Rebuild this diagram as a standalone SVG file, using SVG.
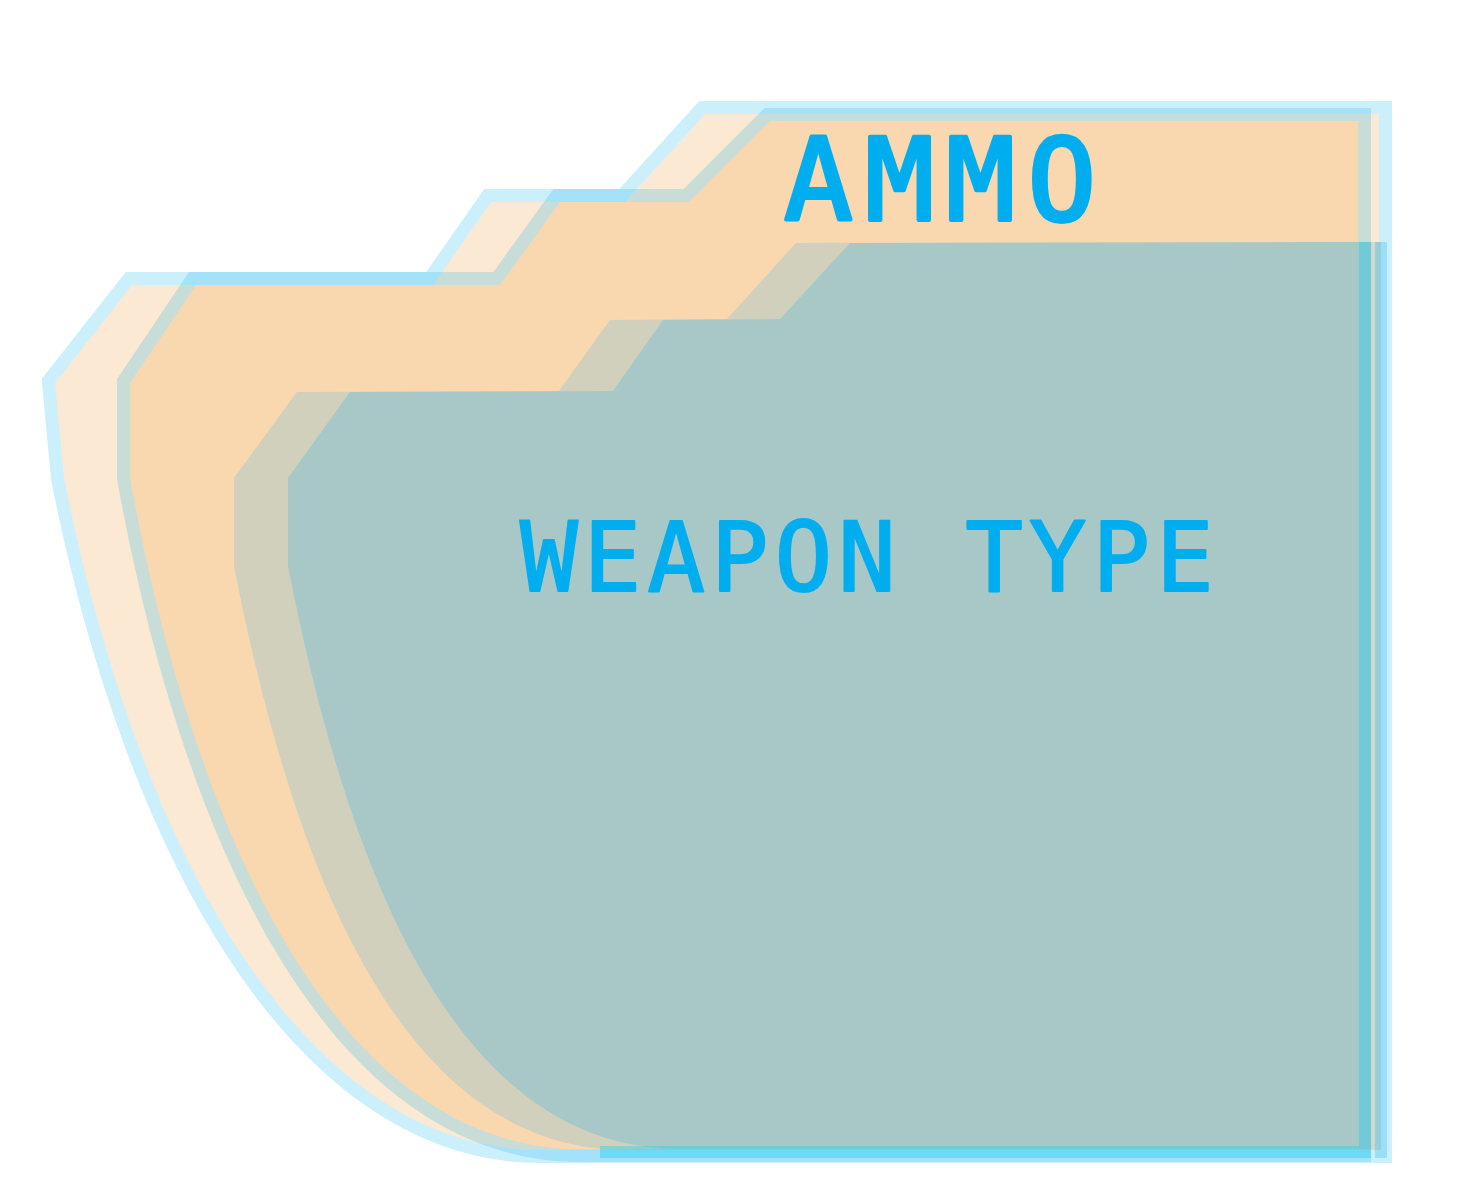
<svg xmlns="http://www.w3.org/2000/svg" width="1462" height="1195" viewBox="0 0 1462 1195">
  <style>
    .edge { stroke: #00AEEF; stroke-opacity: 0.2; stroke-width: 26; stroke-linejoin: miter; paint-order: stroke; }
    .lbl { fill: #00AEEF; stroke: #00AEEF; font-family: "DejaVu Sans Mono", "Liberation Mono", monospace; font-weight: normal; stroke-linejoin: round; }
  </style>
  <rect width="1462" height="1195" fill="#FFFFFF"/>
  <g id="card-back-outer">
    <path class="edge" fill="#FBE9D3" d="M55,383 L132,285 L433,285 L491,202 L625,202 L705,114 L1379,114 L1379,1150 L540,1150 C303,1150 137,848 64,478 Z"/>
  </g>
  <g id="card-ammo">
    <path class="edge" fill="#F9D8B0" d="M130,383 L196,285 L500,285 L560,202 L689,202 L770,121 L1358,121 L1358,1149 L580,1149 C343,1149 197,848 130,478 Z"/>
    <text class="lbl" x="784" y="220" font-size="114" letter-spacing="12.5" stroke-width="4">AMMO</text>
  </g>
  <g id="card-weapon-back">
    <path fill="#A8C8C8" fill-opacity="0.5" d="M234,478 L297,392 L559,391 L610,320 L727,319 L796,243 L1381,242 L1381,1150 L626,1150 C386,1150 286,830 234,566 Z"/>
    <path fill="none" stroke="#00AEEF" stroke-opacity="0.25" stroke-width="12" d="M1381,242 V1158"/>
  </g>
  <g id="card-weapon">
    <path fill="#A7C8C7" d="M288,478 L350,392 L613,391 L663,320 L780,319 L850,243 L1371,242 L1371,1149 L680,1149 C440,1149 340,830 288,566 Z"/>
    <path fill="none" stroke="#20CCF0" stroke-opacity="0.4" stroke-width="12" d="M1365,242 V1152 H600"/>
    <text class="lbl" x="520" y="591" font-size="96" letter-spacing="5.8" stroke-width="2">WEAPON TYPE</text>
  </g>
  <g id="connectors"/>
</svg>
